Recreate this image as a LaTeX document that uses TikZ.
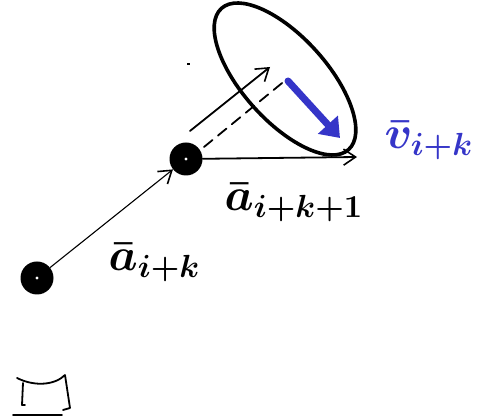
\documentclass[tikz,border=0pt]{standalone}
\usetikzlibrary{arrows.meta,shapes.geometric}
\definecolor{penblue}{HTML}{3535C8}
\begin{document}
\begin{tikzpicture}[x=1pt,y=1pt,
  dot/.style={circle,fill=black,minimum size=33pt,inner sep=0pt},
  pen/.style={line width=1.8pt,line cap=round,line join=round},
  tip/.style={-{Straight Barb[length=12pt,width=16pt,line width=1.6pt]}},
  lbl/.style={font=\Large\boldmath,scale=3.2,transform shape,inner sep=0pt}]
\useasboundingbox (0,0) rectangle (495,419);
% points (pixel coords: X=px, Y=419-py)
\node[dot] (A) at (37,141) {};
\node[dot] (B) at (186,260) {};
\fill[white] (A.center) circle (1.6pt) (B.center) circle (1.6pt);
\coordinate (Bend) at (357,262);
\coordinate (Ustart) at (190,288);
\coordinate (Uend) at (270,352);
\coordinate (Dstart) at (204,272);
\coordinate (Dend) at (287,340);
\coordinate (Vs) at (288,338);
\coordinate (Ve) at (340,281);
% connectors
\draw[line width=1.1pt,tip] (A) -- (B);
\draw[pen,tip] (B) -- (Bend);
\draw[pen,tip] (Ustart) -- (Uend);
\draw[pen,dash pattern=on 11pt off 7pt] (Dstart) -- (Dend);
% ellipse
\node[draw,pen,line width=3.6pt,ellipse,minimum width=190pt,minimum height=84pt,rotate=-48,inner sep=0pt] (E) at (285,340) {};
% blue vector
\draw[penblue,line width=7pt,line cap=round,-{Triangle[length=18pt,width=26pt]}] (Vs) -- (Ve);
% stray mark
\draw[line width=1.6pt] (187,355) -- (190,355);
% labels
\node[lbl,anchor=base west] (L1) at (224,208) {$\bar{a}_{i+k+1}$};
\node[lbl,anchor=base west] (L2) at (108,148) {$\bar{a}_{i+k}$};
\node[lbl,anchor=base west,text=penblue] (L3) at (384,270) {$\bar{v}_{i+k}$};
% bottom-left glyph
\draw[pen] (17,41) .. controls (35,32) and (55,34) .. (65,44)
  (23,36) -- (22,14) -- (25,14)
  (65,44) -- (70,11) -- (63,9);
\draw[pen] (13,4) -- (62,4);
\end{tikzpicture}
\end{document}
